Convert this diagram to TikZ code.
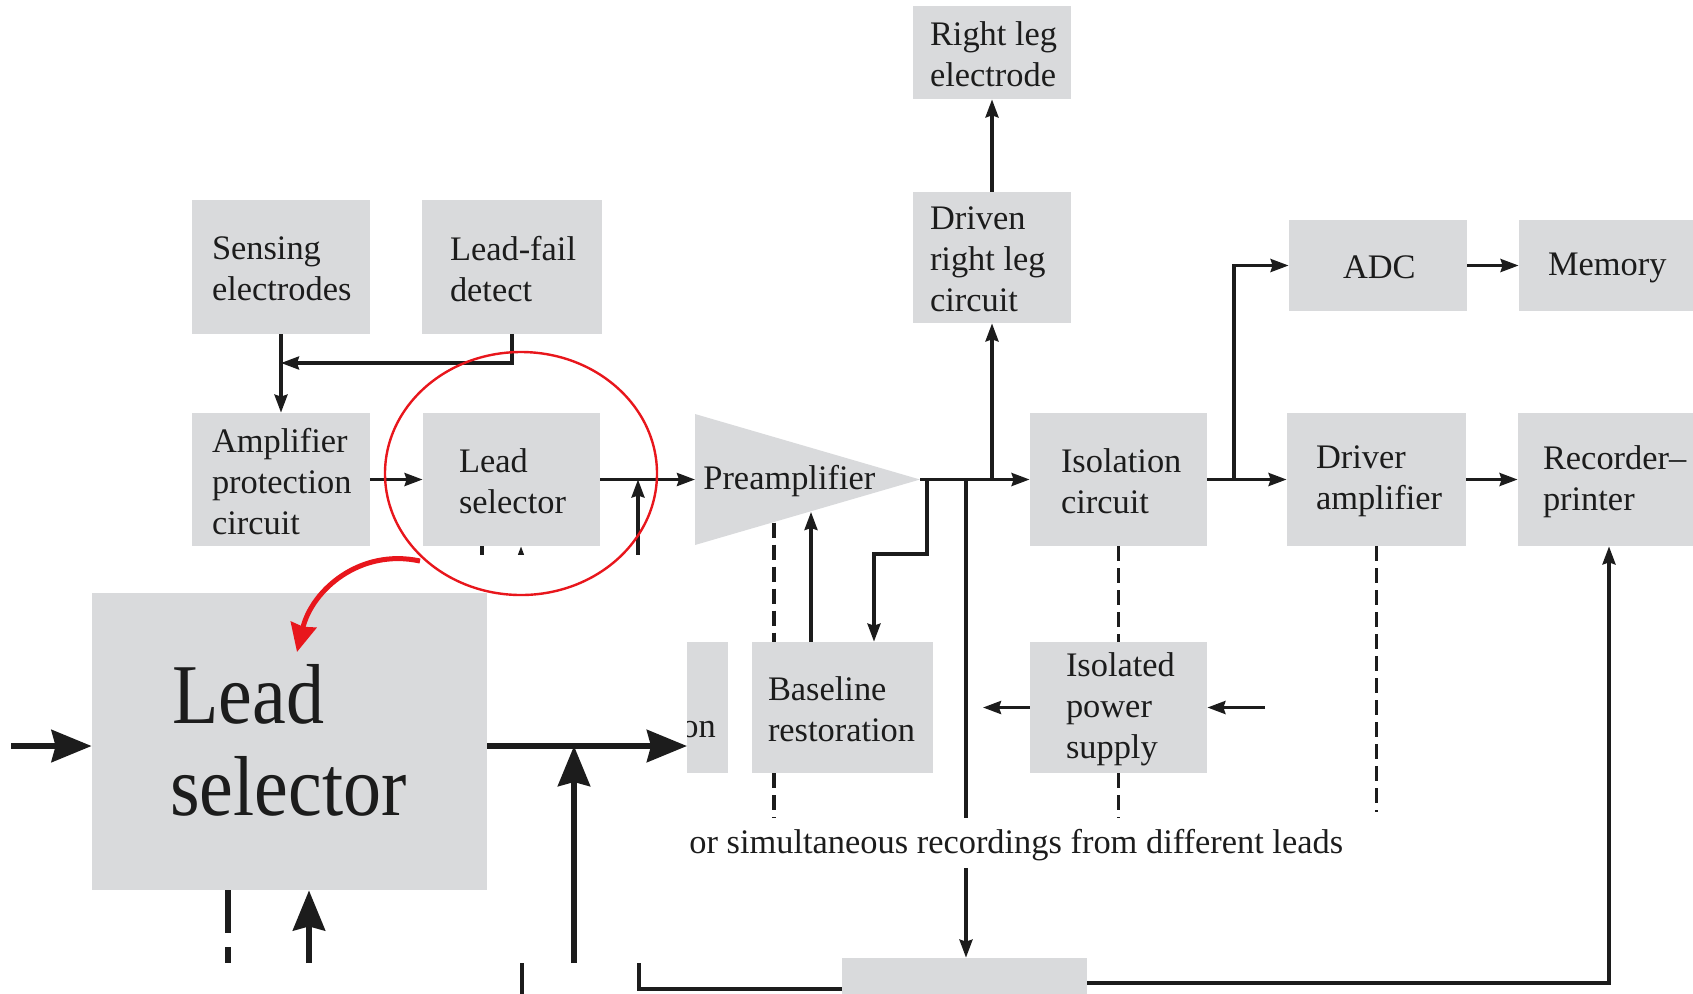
\documentclass[tikz,border=0pt]{standalone}
\usepackage{fontspec}
\setmainfont{Liberation Serif}
\usepackage{graphicx}
\usetikzlibrary{arrows.meta,calc,fit}

\definecolor{blkgray}{RGB}{217,218,220}
\definecolor{ink}{RGB}{28,28,28}
\definecolor{markred}{RGB}{232,22,28}

\tikzset{
  blkbox/.style={fill=blkgray, draw=none, inner sep=0pt},
  lbl/.style={inner sep=0pt, align=left, text=ink, font=\fontsize{17.2}{20.6}\selectfont},
  wire/.style={line width=1.6pt, draw=ink},
  arr/.style={wire, -{Stealth[length=9pt,width=6.5pt,inset=1pt]}},
  dsh/.style={line width=1.8pt, draw=ink, dash pattern=on 7.5pt off 3.5pt},
  bigwire/.style={line width=3pt, draw=ink},
  bigarr/.style={bigwire, -{Stealth[length=20pt,width=16pt,inset=2pt]}},
  bigdsh/.style={bigwire, dash pattern=on 21.5pt off 7pt},
  redline/.style={draw=markred, line width=1.2pt},
  redarr/.style={draw=markred, line width=2.5pt, -{Stealth[length=14pt,width=13pt,inset=1pt]}},
}

% grey block with left-aligned caption: name, x1, y1, x2, y2, text offset, text
\newcommand\blk[7]{%
  \node[blkbox, fit={(#2,#3) (#4,#5)}] (#1) {};%
  \node[lbl, anchor=west] (#1-t) at ($(#1.west)+(#6,2)$) {#7};%
}

\begin{document}
\begin{tikzpicture}[x=0.5pt, y=-0.5pt]
\useasboundingbox (0,0) rectangle (1693,993);
\clip (0,0) rectangle (1693,993);

% ---- blocks ----
\blk{rle}{913}{6}{1071}{99}{17}{Right leg\\electrode}
\blk{drl}{913}{192}{1071}{323}{17}{Driven\\right leg\\circuit}
\blk{sens}{192}{200}{370}{334}{20}{Sensing\\electrodes}
\blk{lfd}{422}{200}{602}{334}{28}{Lead-fail\\detect}
\blk{amp}{192}{413}{370}{546}{20}{Amplifier\\protection\\circuit}
\blk{lsel}{423}{413}{600}{546}{36}{Lead\\selector}
\blk{iso}{1030}{413}{1207}{546}{31}{Isolation\\circuit}
\blk{adc}{1289}{220}{1467}{311}{54}{ADC}
\blk{mem}{1519}{220}{1740}{311}{29}{Memory}
\blk{drv}{1287}{413}{1466}{546}{29}{Driver\\amplifier}
\blk{rec}{1518}{413}{1740}{546}{25}{Recorder–\\printer}
\blk{base}{752}{642}{933}{773}{16}{Baseline\\restoration}
\blk{ips}{1030}{642}{1207}{773}{36}{Isolated\\power\\supply}
\node[blkbox, fit={(640,642) (728,773)}] (part) {};
\node[lbl, anchor=base west] (part-t) at (681,737) {on};
\node[blkbox, fit={(842,958) (1087,1010)}] (out) {};

% preamplifier triangle
\coordinate (preL) at (695,479.5);
\coordinate (preT) at (920,479.5);
\fill[blkgray] (695,414) -- (preT) -- (695,545) -- cycle;
\node[lbl, anchor=west] (pre) at (703,481.5) {Preamplifier};

\node[lbl, anchor=base west] (note) at (689,853) {or simultaneous recordings from different leads};

% ---- connectors ----
\draw[arr] (sens) -- (amp);
\coordinate (lfdTurn) at (512,363);
\draw[arr] (lfd.south) -- (lfdTurn) -- (lfdTurn -| sens.south);
\draw[arr] (amp) -- (lsel);
\draw[arr] (lsel.east) -- (preL);
\coordinate (tapA) at (638,479.5);
\coordinate (upA) at (638,600);
\draw[arr] (upA) -- (tapA);
\coordinate (lsDash) at (482,600);
\draw[dsh] (lsDash |- lsel.south) -- (lsDash);
\coordinate (lsUp) at (521,600);
\draw[arr] (lsUp) -- (lsUp |- lsel.south);

\draw[arr] (preT) -- (iso);
\coordinate (tapB) at (927,479.5);
\coordinate (bendB) at (874,554);
\draw[arr] (tapB) |- (bendB) -- (bendB |- base.north);
\coordinate (tapC) at (992,479.5);
\draw[arr] (tapC) -- (drl);
\draw[arr] (drl) -- (rle);
\coordinate (tapD) at (966,479.5);
\coordinate (gapTop) at (966,818);
\coordinate (gapBot) at (966,868);
\draw[wire] (tapD) -- (gapTop);
\draw[arr] (gapBot) -- (gapBot |- out.north);

\coordinate (preD) at (774,522.5);
\draw[dsh] (preD) -- (preD |- base.north);
\coordinate (baseDash) at (774,818);
\draw[dsh] (baseDash |- base.south) -- (baseDash);
\coordinate (preU) at (811,512);
\draw[arr] (preU |- base.north) -- (preU);

\draw[dsh] (iso.south) -- (ips.north);
\coordinate (ipsDash) at (1118.5,818);
\draw[dsh] (ips.south) -- (ipsDash);
\coordinate (ipsL) at (983,707.5);
\draw[arr] (ips.west) -- (ipsL);
\coordinate (ipsR) at (1265,707.5);
\draw[arr] (ipsR) -- (ips.east);

\draw[arr] (iso) -- (drv);
\coordinate (tapE) at (1234,479.5);
\draw[arr] (tapE) |- (adc.west);
\draw[arr] (adc) -- (mem);
\draw[arr] (drv.east) -- (drv.east -| rec.west);
\coordinate (drvDash) at (1376.5,812);
\draw[dsh] (drv.south) -- (drvDash);

\coordinate (recB) at (1609,983);
\draw[arr] (out.east |- recB) -- (recB) -- (recB |- rec.south);
\coordinate (lbTop) at (639,963);
\coordinate (lbCorner) at (639,989);
\draw[wire] (lbTop) -- (lbCorner) -- (lbCorner -| out.west);
\coordinate (lbA) at (522,963);
\coordinate (lbB) at (522,1000);
\draw[wire] (lbA) -- (lbB);

% ---- enlarged view of the lead selector ----
\fill[white] (0,555) rectangle (687,963);
\node[blkbox, fit={(92,593) (487,890)}] (zbox) {};
\node[anchor=base west, inner sep=0pt, text=ink, font=\fontsize{38}{46}\selectfont] (zT1) at (172,723) {\scalebox{1}[1.12]{Lead}};
\node[anchor=base west, inner sep=0pt, text=ink, font=\fontsize{38}{46}\selectfont] (zT2) at (170,815) {\scalebox{1}[1.12]{selector}};
\coordinate (zin) at (11,746);
\coordinate (zout) at (687,746);
\draw[bigarr] (zin) -- (zin -| zbox.west);
\draw[bigarr] (zbox.east |- zout) -- (zout);
\coordinate (zupB) at (574,963);
\coordinate (zupT) at (574,746);
\draw[bigarr] (zupB) -- (zupT);
\coordinate (zdash) at (228,963);
\draw[bigdsh] (zdash |- zbox.south) -- (zdash);
\coordinate (zarr) at (309,963);
\draw[bigarr] (zarr) -- (zarr |- zbox.south);

% ---- red marking ----
\coordinate (ring) at (521,473.5);
\draw[redline] (ring) ellipse [x radius=68pt, y radius=60.75pt];
\coordinate (redA) at (420,561);
\coordinate (redB) at (297,652);
\draw[redarr] (redA) .. controls (360,548) and (312,590) .. (redB);
\end{tikzpicture}
\end{document}
